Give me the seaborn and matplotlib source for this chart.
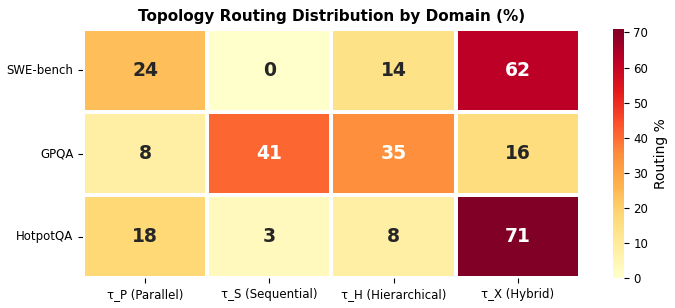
import numpy as np
import pandas as pd
import matplotlib
matplotlib.use("Agg")
import matplotlib.pyplot as plt
from matplotlib.ticker import MultipleLocator
import seaborn as sns

# Data
domains = ["SWE-bench", "GPQA", "HotpotQA"]
topologies = ["τ_P (Parallel)", "τ_S (Sequential)", "τ_H (Hierarchical)", "τ_X (Hybrid)"]
swe_bench = [24, 0, 14, 62]
gpqa = [8, 41, 35, 16]
hotpotqa = [18, 3, 8, 71]

df = pd.DataFrame([swe_bench, gpqa, hotpotqa], index=domains, columns=topologies)

sns.set_style("ticks")
plt.rcParams["axes.grid"] = True
plt.rcParams["grid.color"] = "#cccccc"
plt.rcParams["grid.linewidth"] = 0.8
plt.rcParams["grid.alpha"] = 0.6
plt.rcParams["text.color"] = "black"
plt.rcParams["xtick.color"] = "black"
plt.rcParams["ytick.color"] = "black"
plt.rcParams["axes.labelcolor"] = "black"

fig = plt.figure(figsize=(6.75, 3.08), dpi=100)
ax = fig.add_axes([0.123, 0.097, 0.736, 0.809])
cax = fig.add_axes([0.908, 0.097, 0.016, 0.809])
sns.heatmap(df, annot=True, fmt="d", cmap="YlOrRd", vmin=0, vmax=71,
            linewidths=1.5, linecolor="white",
            annot_kws={"fontsize": 13.5, "fontweight": "bold"},
            cbar_ax=cax, cbar_kws={"label": "Routing %"}, ax=ax)
ax.set_title("Topology Routing Distribution by Domain (%)", fontsize=11, fontweight="bold")
ax.tick_params(axis="both", labelsize=8.5)
plt.setp(ax.get_yticklabels(), rotation=0)
plt.setp(ax.get_xticklabels(), rotation=0)
cax.yaxis.set_major_locator(MultipleLocator(10))
cax.tick_params(labelsize=8.5)
cax.yaxis.label.set_size(10)
cax.grid(False)
plt.savefig("out.png", dpi=100)
